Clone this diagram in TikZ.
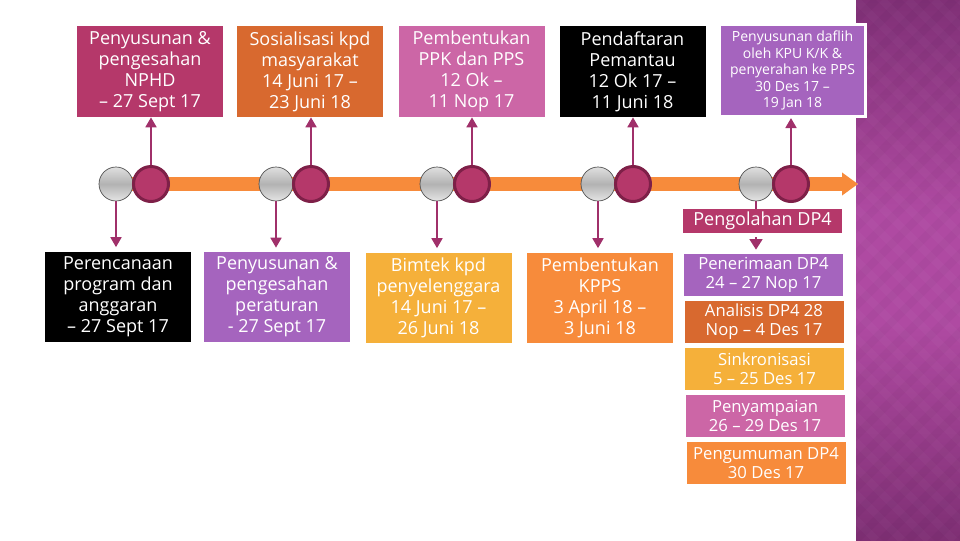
\documentclass[tikz,border=0pt]{standalone}
\usepackage{fontspec}
\setmainfont{Open Sans}
\usetikzlibrary{arrows.meta}
\definecolor{cMag}{HTML}{B5386A}
\definecolor{cOrD}{HTML}{D8692F}
\definecolor{cPink}{HTML}{CC66A6}
\definecolor{cPur}{HTML}{A564BE}
\definecolor{cYel}{HTML}{F5B03A}
\definecolor{cOr}{HTML}{F78B3B}
\definecolor{cConn}{HTML}{A0306A}
\definecolor{cRing}{HTML}{7E2048}
\definecolor{bandTop}{HTML}{451040}
\definecolor{bandMid}{HTML}{AF4AA2}
\definecolor{bandBot}{HTML}{420E3A}
\pgfdeclareverticalshading{bandshade}{100bp}{color(0bp)=(bandBot); color(45bp)=(bandMid); color(55bp)=(bandMid); color(100bp)=(bandTop)}
\tikzset{
  box/.style={inner sep=0pt, align=center, text=white, font=\fontsize{13.5}{15.75}\selectfont},
  topbox/.style={box, minimum width=109.5pt, minimum height=68.25pt},
  botbox/.style={box, minimum width=109.5pt, minimum height=67.5pt},
  stackbox/.style={box, minimum width=119.25pt, minimum height=31.5pt, font=\fontsize{12.5}{14.25}\selectfont},
  graydot/.style={circle, inner sep=0pt, minimum size=25.5pt, draw=black!70, line width=0.5pt,
    top color=gray!25, bottom color=gray!20, middle color=gray!60},
  magdot/.style={circle, inner sep=0pt, minimum size=26.25pt, fill=cMag, draw=cRing, line width=2.25pt},
  conn/.style={draw=cConn, line width=2pt, -{Triangle[length=7.5pt,width=8pt]}},
  bar/.style={draw=cOr, line width=10.5pt, -{Triangle[length=12pt,width=16.5pt]}}
}
\begin{document}
\begin{tikzpicture}[x=0.75pt,y=-0.75pt]
\useasboundingbox (0,0) rectangle (960,540);
\fill[white] (0,0) rectangle (960,540);
% right band
\shade[shading=bandshade] (856,0) rectangle (960,540);
\begin{scope}
\clip (856,0) rectangle (960,540);
\foreach \k in {0,...,40}{
  \draw[white, opacity=0.025, line width=6pt] (856+\k*26-520,0) -- ++(540,540);
  \draw[black, opacity=0.025, line width=6pt] (856+\k*26-520,540) -- ++(540,-540);
}
\end{scope}
% timeline bar
\coordinate (tip) at (858,184);
\coordinate (start) at (110,184);
\draw[white, line width=13pt, -{Triangle[length=15pt,width=21pt]}] (start) -- (tip);
\draw[bar] (start) -- (tip);
% dots
\foreach \i/\gx in {1/116,2/276,3/437,4/598,5/756}{
  \node[graydot] (g\i) at (\gx,184) {};
  \node[magdot] (m\i) at (\gx+35,184) {};
}
% top boxes
\node[topbox, fill=cMag] (t1) at (150,71.5) {Penyusunan \&\\pengesahan\\NPHD\\– 27 Sept 17};
\node[topbox, fill=cOrD] (t2) at (310,71.5) {Sosialisasi kpd\\masyarakat\\14 Juni 17 –\\23 Juni 18};
\node[topbox, fill=cPink] (t3) at (471.5,71.5) {Pembentukan\\PPK dan PPS\\12 Ok –\\11 Nop 17};
\node[topbox, fill=black] (t4) at (632.5,71.5) {Pendaftaran\\Pemantau\\12 Ok 17 –\\11 Juni 18};
\node[box, fill=cPur, draw=white, line width=2.25pt, minimum width=109.5pt, minimum height=69pt,
  font=\fontsize{10.5}{12.4}\selectfont] (t5) at (792.5,70.5)
  {Penyusunan daflih\\oleh KPU K/K \&\\penyerahan ke PPS\\30 Des 17 –\\19 Jan 18};
% bottom boxes
\node[botbox, fill=black] (b1) at (118,296.5) {Perencanaan\\program dan\\anggaran\\– 27 Sept 17};
\node[botbox, fill=cPur] (b2) at (277,297) {Penyusunan \&\\pengesahan\\peraturan\\- 27 Sept 17};
\node[botbox, fill=cYel] (b3) at (438.5,297.5) {Bimtek kpd\\penyelenggara\\14 Juni 17 –\\26 Juni 18};
\node[botbox, fill=cOr] (b4) at (600,297.5) {Pembentukan\\KPPS\\3 April 18 –\\3 Juni 18};
% Pengolahan DP4
\node[box, fill=cMag, minimum width=119.25pt, minimum height=18pt, font=\fontsize{13.5}{15}\selectfont] (peng) at (762.5,221) {Pengolahan DP4};
\node[stackbox, fill=cPur] (s1) at (763.5,275) {Penerimaan DP4\\24 – 27 Nop 17};
\node[stackbox, fill=cOrD] (s2) at (764,321.5) {Analisis DP4 28\\Nop – 4 Des 17};
\node[stackbox, fill=cYel] (s3) at (764.5,369) {Sinkronisasi\\5 – 25 Des 17};
\node[stackbox, fill=cPink] (s4) at (765,416) {Penyampaian\\26 – 29 Des 17};
\node[stackbox, fill=cOr] (s5) at (766,463) {Pengumuman DP4\\30 Des 17};
% connectors up
\foreach \i in {1,...,5}{
  \draw[conn] (m\i.north) -- (m\i.north |- t\i.south);
}
% connectors down
\foreach \i in {1,...,4}{
  \draw[conn, shorten >=3pt] (g\i.south) -- (g\i.south |- b\i.north);
}
\draw[draw=cConn, line width=2pt] (g5.south) -- (g5.south |- peng.north);
\coordinate (pk) at (g5.south |- peng.south);
\draw[conn, -{Triangle[length=8pt,width=9.5pt]}, shorten <=3pt, shorten >=3pt] (pk) -- (pk |- s1.north);
\end{tikzpicture}
\end{document}
